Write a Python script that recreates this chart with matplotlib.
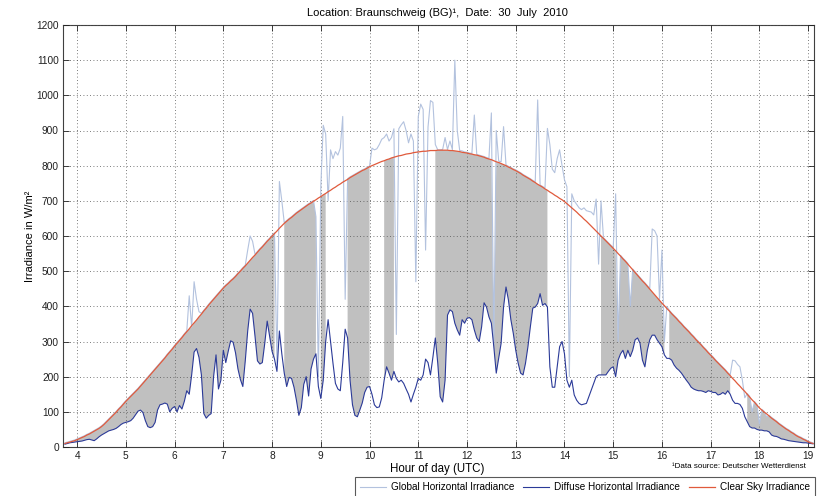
import numpy as np
import matplotlib
matplotlib.use("Agg")
import matplotlib.pyplot as plt

plt.rcParams['font.family'] = ['Liberation Sans', 'DejaVu Sans']

# time grid: 3.75 h ... 19.10 h in 3-minute steps
hours = np.round(np.arange(3.75, 19.1001, 0.05), 2)

clear_sky = [
    10, 12, 14, 16, 18,
    21, 24, 27, 30, 34, 37, 41, 45, 49, 53, 58, 64, 71, 78, 85, 92, 99, 107, 114, 122,
    130, 137, 144, 151, 158, 165, 173, 181, 189, 197, 205, 213, 221, 229, 237, 245, 253, 262, 270, 278,
    287, 295, 303, 311, 320, 328, 336, 345, 353, 361, 370, 378, 387, 395, 404, 412, 420, 428, 436, 444,
    452, 459, 465, 472, 478, 485, 493, 500, 508, 515, 523, 531, 539, 546, 554, 562, 569, 577, 585, 592,
    600, 607, 614, 622, 629, 636, 642, 648, 653, 659, 665, 670, 675, 680, 685, 690, 694, 699, 703, 708,
    712, 717, 721, 726, 730, 735, 739, 744, 748, 753, 757, 761, 766, 770, 774, 778, 782, 786, 789, 793,
    797, 800, 803, 806, 809, 812, 814, 817, 819, 822, 824, 826, 828, 829, 831, 833, 834, 835, 837, 838,
    839, 840, 841, 841, 842, 843, 843, 843, 844, 844, 844, 844, 844, 843, 843, 842, 841, 840, 838, 837,
    836, 834, 833, 831, 830, 828, 826, 824, 821, 819, 817, 814, 811, 809, 806, 803, 800, 796, 793, 789,
    786, 782, 778, 773, 769, 765, 761, 756, 752, 747, 743, 739, 734, 730, 725, 721, 716, 712, 707, 703,
    698, 692, 686, 680, 674, 668, 661, 655, 648, 642, 635, 628, 621, 614, 607, 600, 593, 586, 579, 572,
    565, 558, 550, 543, 535, 528, 520, 512, 504, 496, 488, 480, 472, 465, 457, 449, 441, 433, 425, 417,
    409, 402, 394, 387, 379, 372, 365, 357, 350, 342, 335, 328, 320, 313, 305, 298, 291, 283, 276, 268,
    261, 254, 246, 239, 232, 225, 218, 210, 203, 195, 188, 180, 173, 165, 158, 150, 142, 134, 127, 119,
    111, 105, 99, 94, 88, 82, 77, 72, 66, 61, 56, 51, 47, 42, 38, 33, 29, 26, 22, 19,
    15, 12, 10,
]

diffuse = [
    8, 10, 12, 13, 14,
    15, 16, 17, 19, 21, 22, 20, 18, 23, 29, 34, 38, 42, 46, 48, 50, 53, 58, 64, 68,
    70, 72, 75, 82, 92, 102, 105, 98, 75, 58, 55, 58, 70, 105, 120, 122, 125, 122, 100, 110,
    115, 100, 118, 108, 130, 160, 150, 205, 270, 280, 255, 205, 95, 82, 90, 95, 200, 262, 165, 190,
    275, 240, 272, 302, 298, 268, 222, 192, 172, 245, 330, 392, 380, 315, 245, 236, 240, 295, 358, 315,
    272, 250, 215, 330, 265, 210, 172, 198, 195, 170, 133, 90, 112, 178, 200, 145, 222, 250, 265, 172,
    138, 190, 300, 362, 300, 238, 181, 165, 160, 240, 335, 310, 190, 120, 90, 86, 105, 125, 155, 170,
    172, 150, 120, 112, 114, 140, 190, 228, 210, 190, 215, 195, 185, 190, 181, 165, 150, 128, 150, 170,
    195, 190, 205, 250, 240, 205, 255, 310, 238, 143, 128, 190, 375, 390, 385, 352, 333, 318, 362, 352,
    366, 368, 362, 333, 310, 300, 342, 410, 398, 370, 352, 285, 210, 252, 295, 398, 455, 418, 362, 323,
    275, 238, 210, 205, 238, 285, 342, 395, 398, 408, 436, 403, 408, 398, 228, 170, 170, 228, 285, 300,
    265, 190, 170, 190, 148, 133, 124, 120, 122, 124, 143, 162, 181, 200, 205, 205, 205, 205, 215, 224,
    228, 200, 247, 265, 275, 252, 275, 257, 275, 305, 310, 295, 247, 228, 275, 305, 318, 318, 305, 295,
    285, 262, 252, 252, 247, 233, 224, 218, 210, 200, 190, 181, 170, 165, 162, 160, 160, 158, 155, 160,
    158, 155, 155, 148, 150, 155, 150, 160, 150, 133, 124, 124, 121, 110, 86, 72, 58, 54, 54, 50,
    48, 48, 46, 46, 43, 34, 31, 30, 27, 23, 22, 20, 18, 17, 16, 15, 14, 13, 12, 12,
    11, 10, 9,
]

global_irr = [
    12, 14, 16, 18, 20,
    23, 26, 29, 32, 36, 39, 43, 47, 51, 55, 60, 66, 73, 80, 87, 94, 101, 109, 116, 124,
    132, 139, 146, 153, 160, 167, 175, 183, 191, 199, 207, 215, 223, 231, 239, 247, 255, 264, 272, 280,
    289, 297, 305, 313, 322, 330, 430, 340, 470, 420, 385, 380, 389, 397, 406, 414, 422, 430, 438, 446,
    454, 461, 467, 474, 480, 487, 495, 502, 510, 517, 560, 600, 585, 548, 556, 564, 571, 579, 587, 594,
    602, 609, 235, 755, 700, 638, 644, 650, 655, 661, 667, 672, 677, 682, 687, 692, 696, 701, 655, 200,
    740, 915, 890, 700, 845, 820, 840, 830, 850, 940, 420, 763, 768, 772, 776, 780, 784, 788, 791, 795,
    799, 850, 845, 848, 860, 875, 880, 890, 870, 880, 905, 320, 905, 916, 925, 900, 865, 890, 870, 470,
    940, 975, 960, 560, 910, 985, 980, 860, 845, 845, 846, 880, 846, 870, 846, 1100, 900, 843, 842, 839,
    838, 836, 835, 944, 832, 830, 828, 826, 823, 821, 950, 290, 900, 813, 811, 911, 802, 798, 795, 791,
    788, 784, 780, 775, 771, 767, 763, 758, 754, 987, 745, 741, 736, 906, 860, 790, 780, 820, 845, 800,
    760, 740, 200, 720, 700, 690, 680, 675, 680, 672, 670, 668, 660, 705, 520, 700, 595, 588, 581, 574,
    567, 720, 300, 545, 537, 530, 522, 400, 506, 498, 490, 482, 474, 467, 459, 451, 620, 615, 600, 420,
    560, 300, 400, 389, 381, 374, 367, 359, 352, 344, 337, 330, 322, 315, 307, 300, 293, 285, 278, 270,
    263, 256, 248, 241, 234, 227, 220, 212, 205, 247, 245, 235, 228, 190, 140, 152, 144, 100, 129, 121,
    65, 107, 101, 85, 90, 84, 79, 74, 68, 63, 58, 53, 49, 44, 40, 35, 31, 28, 24, 21,
    17, 14, 12,
]

# 1 = sunshine period (grey shading), 0 = overcast / cloud enhanced
sunshine = (
    [1] * 5 + [1] * 20 + [1] * 20 + [1] * 20 + [1] * 20
    + [1, 1, 0, 0, 0, 1, 1, 1, 1, 1, 1, 1, 1, 1, 1, 1, 1, 1, 1, 0]
    + [1, 1, 1, 0, 0, 0, 0, 0, 0, 0, 0, 1, 1, 1, 1, 1, 1, 1, 1, 1]
    + [1, 0, 0, 0, 0, 0, 1, 1, 1, 1, 1, 0, 0, 0, 0, 0, 0, 0, 0, 0]
    + [0, 0, 0, 0, 0, 0, 0, 1, 1, 1, 1, 1, 1, 1, 1, 1, 1, 1, 1, 1]
    + [1] * 20
    + [1] * 14 + [0] * 6
    + [0] * 15 + [1] * 5
    + [1] * 20
    + [1, 1, 0] + [1] * 17
    + [1] * 9 + [0] * 6 + [1] * 5
    + [1] * 20
    + [1] * 3
)

x_ticks = list(range(4, 20))
y_ticks = list(range(0, 1300, 100))

t = hours
G = np.array(global_irr, float)
D = np.array(diffuse, float)
C = np.array(clear_sky, float)
S = np.array(sunshine, bool)

W, H = 821, 496
fig = plt.figure(figsize=(W / 100, H / 100), dpi=100)
ax = fig.add_axes([63 / W, 1 - 447 / H, (814 - 63) / W, (447 - 25) / H])

top = np.minimum(G, C)
ax.fill_between(t, D, top, where=S, color='#c0c0c0', linewidth=0, zorder=1)
l1, = ax.plot(t, G, color='#b3c2de', lw=0.8, zorder=3, label='Global Horizontal Irradiance')
l2, = ax.plot(t, D, color='#2b3a98', lw=0.8, zorder=4, label='Diffuse Horizontal Irradiance')
l3, = ax.plot(t, C, color='#e05a3c', lw=0.9, zorder=5, label='Clear Sky Irradiance')

ax.set_xlim(3.71, 19.12)
ax.set_ylim(0, 1200)
ax.set_xticks(x_ticks)
ax.set_yticks(y_ticks)
ax.set_axisbelow(False)
ax.grid(True, color='#505050', linestyle=(0, (1, 3)), linewidth=0.6)
ax.tick_params(direction='in', top=True, right=True, length=4, width=0.6,
               labelsize=7.3, pad=3, colors='#202020')
for sp in ax.spines.values():
    sp.set_color('#404040')
    sp.set_linewidth(0.8)

fig.text(437 / W, 1 - 13 / H, 'Location: Braunschweig (BG)\u00b9,  Date:  30  July  2010',
         ha='center', va='center', fontsize=8)
fig.text(30 / W, 1 - 236 / H, 'Irradiance in W/m\u00b2', rotation=90,
         ha='center', va='center', fontsize=8)
fig.text(437 / W, 1 - 469 / H, 'Hour of day (UTC)', ha='center', va='center', fontsize=8.3)
fig.text(806 / W, 1 - 466 / H, '\u00b9Data source: Deutscher Wetterdienst',
         ha='right', va='center', fontsize=5.8)

leg = fig.legend(handles=[l1, l2, l3], loc='upper right', ncol=3,
                 bbox_to_anchor=(815 / W, 1 - 477 / H), fontsize=7.2,
                 frameon=True, fancybox=False, edgecolor='#303030',
                 handlelength=2.6, columnspacing=0.9, handletextpad=0.5,
                 borderpad=0.5, borderaxespad=0)
leg.get_frame().set_linewidth(0.8)

fig.savefig('out.png', dpi=100)
